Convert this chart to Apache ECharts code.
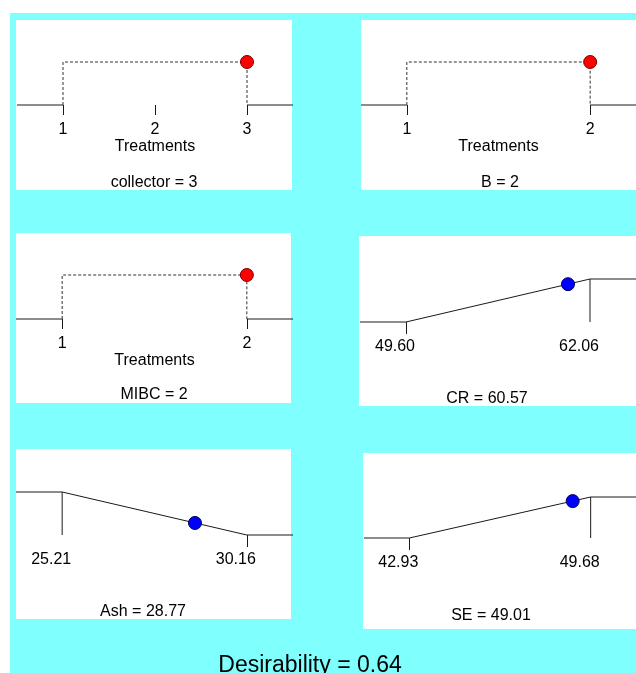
<!DOCTYPE html>
<html><head><meta charset="utf-8">
<script src="https://cdn.jsdelivr.net/npm/echarts@6/dist/echarts.min.js"></script>
<style>html,body{margin:0;padding:0;background:#fff}#c{width:636px;height:673px}</style>
</head><body><div id="c"></div>
<script>
// ---- data ----
const factorNames = ['collector', 'B', 'MIBC'];
const factorLevels = [[1, 2, 3], [1, 2], [1, 2]];
const factorSetting = [3, 2, 2];
const responseNames = ['CR', 'Ash', 'SE'];
const responseLow = [49.60, 25.21, 42.93];
const responseHigh = [62.06, 30.16, 49.68];
const responseGoal = ['max', 'min', 'max'];
const responsePredicted = [60.57, 28.77, 49.01];
const responseDesirability = [0.88, 0.28, 0.90];
const overallDesirability = 0.64;
const factorAxisTitle = 'Treatments';

// ---- layout ----
const FONT = '"Liberation Sans", Arial, sans-serif';
const PAD = 0.25;
const panels = [
  { rect: [16, 20, 276, 170],  grid: [17, 62, 276, 43],  title: [154, 183] },
  { rect: [361, 20, 290, 170], grid: [361, 62, 278, 43], title: [500, 183] },
  { rect: [16, 233, 275, 170], grid: [16, 275, 277, 44], title: [154, 395] },
  { rect: [359, 236, 290, 170], grid: [360, 279, 276, 43], title: [487, 399] },
  { rect: [16, 449, 275, 170], grid: [16, 492, 277, 43], title: [143, 612] },
  { rect: [363, 453, 290, 176], grid: [364, 497, 276, 41], title: [491, 616] }
];
const LINE = '#1a1a1a';

const grids = [], xAxes = [], yAxes = [], series = [];
const graphics = [
  { type: 'rect', shape: { x: 10, y: 13, width: 626, height: 660 }, style: { fill: '#80ffff' }, z: -10 }
];

function addPanel(i, lo, hi, ticks, labels, numeric, nameText, titleText) {
  const p = panels[i];
  graphics.push({ type: 'rect', shape: { x: p.rect[0], y: p.rect[1], width: p.rect[2], height: p.rect[3] }, style: { fill: '#ffffff' }, z: -9 });
  graphics.push({ type: 'text', x: p.title[0], y: p.title[1], style: { text: titleText, font: '16px ' + FONT, fill: '#000', align: 'center', verticalAlign: 'middle' }, z: 10 });
  grids.push({ left: p.grid[0], top: p.grid[1], width: p.grid[2], height: p.grid[3], containLabel: false });
  const pad = (hi - lo) * PAD;
  const ax = {
    type: 'value', gridIndex: i, min: lo - pad, max: hi + pad, z: 5,
    axisLine: { show: false }, splitLine: { show: false },
    axisTick: { show: true, customValues: ticks, length: numeric ? 12 : 10, lineStyle: { color: LINE, width: 1 } },
    axisLabel: {
      customValues: labels, margin: 17, fontSize: 16, fontFamily: FONT, color: '#000',
      formatter: numeric ? (v => Number(v).toFixed(2)) : (v => String(v)),
      padding: numeric ? [0, 22, 0, 0] : 0
    }
  };
  if (nameText) {
    Object.assign(ax, { name: nameText, nameLocation: 'middle', nameGap: 34, nameMoveOverlap: false,
      nameTextStyle: { fontSize: 16, fontFamily: FONT, color: '#000' } });
  }
  xAxes.push(ax);
  yAxes.push({ type: 'value', gridIndex: i, min: 0, max: 1, show: false });
  return { min: lo - pad, max: hi + pad };
}

function lineSeries(i, data, style) {
  series.push({ type: 'line', xAxisIndex: i, yAxisIndex: i, data: data, symbol: 'none', clip: false,
    silent: true, lineStyle: Object.assign({ color: LINE, width: 1 }, style || {}) });
}
function dotSeries(i, pt, color, border) {
  series.push({ type: 'scatter', xAxisIndex: i, yAxisIndex: i, data: [pt], symbol: 'circle', symbolSize: 13, clip: false,
    z: 4, itemStyle: { color: color, borderColor: border, borderWidth: 1, opacity: 1 } });
}

// factor panels
factorNames.forEach((nm, k) => {
  const lv = factorLevels[k];
  const lo = lv[0], hi = lv[lv.length - 1];
  const ext = addPanel(k, lo, hi, lv, lv, false, factorAxisTitle, nm + ' = ' + factorSetting[k]);
  lineSeries(k, [[ext.min, 0], [lo, 0]]);
  lineSeries(k, [[hi, 0], [ext.max, 0]]);
  lineSeries(k, [[lo, 0], [lo, 1], [factorSetting[k], 1], [factorSetting[k], 0]], { type: [3, 2], color: '#333' });
  dotSeries(k, [factorSetting[k], 1], '#ff0000', '#7a0000');
});

// response panels
responseNames.forEach((nm, k) => {
  const i = 3 + k;
  const lo = responseLow[k], hi = responseHigh[k];
  const isMax = responseGoal[k] === 'max';
  const zeroAt = isMax ? lo : hi;
  const oneAt = isMax ? hi : lo;
  const ext = addPanel(i, lo, hi, [zeroAt], [lo, hi], true, null, nm + ' = ' + responsePredicted[k].toFixed(2));
  if (isMax) lineSeries(i, [[ext.min, 0], [lo, 0], [hi, 1], [ext.max, 1]]);
  else lineSeries(i, [[ext.min, 1], [lo, 1], [hi, 0], [ext.max, 0]]);
  lineSeries(i, [[oneAt, 1], [oneAt, 0]]);
  dotSeries(i, [responsePredicted[k], responseDesirability[k]], '#0000ff', '#00005a');
});

graphics.push({ type: 'text', x: 310, y: 666, style: { text: 'Desirability = ' + overallDesirability.toFixed(2), font: '23px ' + FONT, fill: '#000', align: 'center', verticalAlign: 'middle' }, z: 10 });

const chart = echarts.init(document.getElementById('c'), null, { renderer: 'canvas' });
chart.setOption({
  backgroundColor: '#ffffff',
  animation: false,
  grid: grids, xAxis: xAxes, yAxis: yAxes, series: series,
  graphic: { elements: graphics }
});
</script></body></html>
